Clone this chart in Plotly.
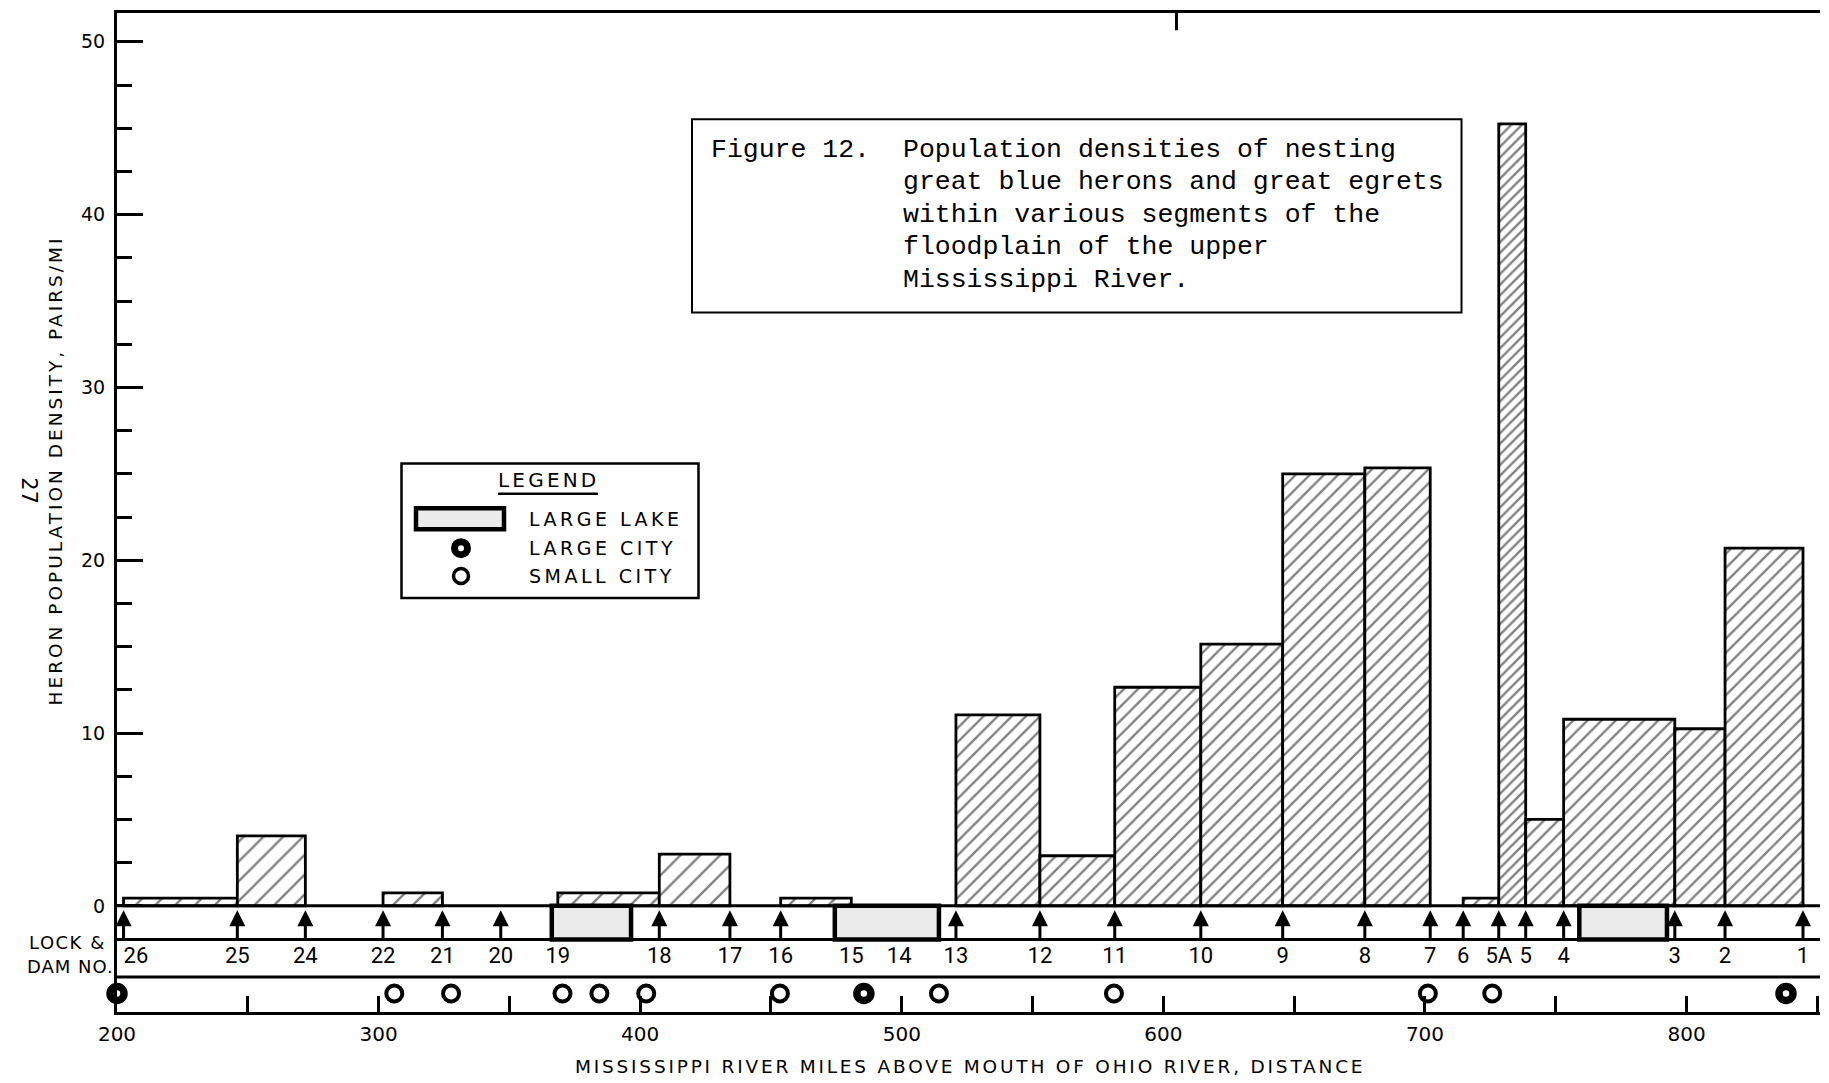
import plotly.graph_objects as go

# ---------------- data ----------------
lock_names = ["26", "25", "24", "22", "21", "20", "19", "18", "17", "16", "15", "14", "13",
              "12", "11", "10", "9", "8", "7", "6", "5A", "5", "4", "3", "2", "1"]
lock_miles = [202.5, 246.0, 272.0, 301.7, 324.4, 346.7, 368.5, 407.3, 434.3, 453.7, 480.7, 499.0, 520.7,
              552.8, 581.4, 614.3, 645.6, 677.0, 702.0, 714.6, 728.2, 738.5, 753.0, 795.5, 814.7, 844.5]
lock_has_arrow = [True, True, True, True, True, True, False, True, True, True, False, False, True,
                  True, True, True, True, True, True, True, True, True, True, True, True, True]

seg_from = ["26", "25", "22", "19", "18", "16", "13", "12", "11", "10", "9", "8", "6", "5A", "5", "4", "3", "2"]
seg_to = ["25", "24", "21", "18", "17", "15", "12", "11", "10", "9", "8", "7", "5A", "5", "4", "3", "2", "1"]
density = [0.45, 4.05, 0.75, 0.75, 3.0, 0.45, 11.05, 2.9, 12.65, 15.15, 25.0, 25.35, 0.45, 45.25, 5.0, 10.8, 10.25, 20.7]

lake_start = [366.2, 474.4, 759.0]
lake_end = [396.5, 514.2, 792.5]

small_city_miles = [306.0, 327.7, 370.3, 384.4, 402.3, 453.4, 514.2, 581.1, 701.1, 725.7]
large_city_miles = [200.0, 485.5, 838.0]

x_tick_vals = [200, 300, 400, 500, 600, 700, 800]
x_minor_vals = [250, 350, 450, 550, 650, 750, 850]
y_tick_vals = [0, 10, 20, 30, 40, 50]
y_minor_vals = [2.5, 5, 7.5, 12.5, 15, 17.5, 22.5, 25, 27.5, 32.5, 35, 37.5, 42.5, 45, 47.5]
top_tick_miles = [605]

title_first = "Figure 12."
title_lines = ["Population densities of nesting",
               "great blue herons and great egrets",
               "within various segments of the",
               "floodplain of the upper",
               "Mississippi River."]
legend_labels = ["LARGE LAKE", "LARGE CITY", "SMALL CITY"]

# ---------------- styling / geometry ----------------
OFF = 8                      # browser body margin
W, H = 1829 - OFF, 1083 - OFF
ML, MR, MT, MB = 109, 9, 2, 70.5
PW = W - ML - MR
PH = H - MT - MB
PX_PER_UNIT = 17.342
Y0_PAGE = 906.0
YMIN = -(OFF + MT + PH - Y0_PAGE) / PX_PER_UNIT
YMAX = (Y0_PAGE - OFF - MT) / PX_PER_UNIT
STRIP_LOCK = -1.95      # bottom of lock strip
STRIP_MID = -4.12       # line between lock labels and city strip
LABEL_Y = -3.0
CITY_Y = -5.07
FONT = "DejaVu Sans"
NARROW = "Liberation Sans Narrow, Arial Narrow, Roboto, sans-serif"
MONO = "Liberation Mono, DejaVu Sans Mono, monospace"


def px_x(x):
    return (x - OFF - ML) / PW


def px_y(y):
    return (OFF + MT + PH - y) / PH


def spaced(t, sp):
    return '<span style="letter-spacing:%.1fpx">%s</span>' % (sp, t)


lock_pos = dict(zip(lock_names, lock_miles))
bar_left = [lock_pos[a] for a in seg_from]
bar_right = [lock_pos[b] for b in seg_to]
bar_center = [(a + b) / 2 for a, b in zip(bar_left, bar_right)]
bar_width = [b - a for a, b in zip(bar_left, bar_right)]
hatch_size = [14 if c < 500 else (7.5 if w < 12 else 10) for c, w in zip(bar_center, bar_width)]
hatch_solid = [2.3 / s for s in hatch_size]

fig = go.Figure()

# density bars
fig.add_trace(go.Bar(
    x=bar_center, y=density, width=bar_width,
    marker=dict(color="white", line=dict(color="black", width=2.8),
                pattern=dict(shape="/", fgcolor="black", bgcolor="white",
                             size=hatch_size, solidity=hatch_solid)),
    hoverinfo="skip", showlegend=False))

# lakes
lake_center = [(a + b) / 2 for a, b in zip(lake_start, lake_end)]
lake_width = [b - a for a, b in zip(lake_start, lake_end)]
fig.add_trace(go.Bar(
    x=lake_center, y=[-STRIP_LOCK] * len(lake_center), base=STRIP_LOCK, width=lake_width,
    marker=dict(color="#ebebeb", line=dict(color="black", width=4.5)),
    hoverinfo="skip", showlegend=False))

# lock arrows
ax_x, ax_y, head_x = [], [], []
for m, a in zip(lock_miles, lock_has_arrow):
    if a:
        ax_x += [m, m, None]
        ax_y += [STRIP_LOCK, -0.8, None]
        head_x.append(m)
fig.add_trace(go.Scatter(x=ax_x, y=ax_y, mode="lines", line=dict(color="black", width=3),
                         hoverinfo="skip", showlegend=False, cliponaxis=False))
fig.add_trace(go.Scatter(x=head_x, y=[-0.25] * len(head_x), mode="markers",
                         marker=dict(symbol="arrow-up", size=16, color="black",
                                     line=dict(width=0)),
                         hoverinfo="skip", showlegend=False, cliponaxis=False))

# lock labels
fig.add_trace(go.Scatter(
    x=lock_miles, y=[LABEL_Y] * len(lock_miles), mode="text", text=lock_names,
    textposition=["middle right"] + ["middle center"] * (len(lock_names) - 1),
    textfont=dict(family=NARROW, size=22, color="black"),
    hoverinfo="skip", showlegend=False, cliponaxis=False))

# cities
fig.add_trace(go.Scatter(
    x=small_city_miles, y=[CITY_Y] * len(small_city_miles), mode="markers",
    marker=dict(symbol="circle-open", size=16, color="black", line=dict(width=4)),
    hoverinfo="skip", showlegend=False, cliponaxis=False))
fig.add_trace(go.Scatter(
    x=large_city_miles, y=[CITY_Y] * len(large_city_miles), mode="markers",
    marker=dict(symbol="circle", size=14, color="white", line=dict(color="black", width=7.5)),
    hoverinfo="skip", showlegend=False, cliponaxis=False))

shapes = []
for lvl in [0, STRIP_LOCK, STRIP_MID]:
    shapes.append(dict(type="line", xref="paper", yref="y", x0=0, x1=1, y0=lvl, y1=lvl,
                       line=dict(color="black", width=3), layer="above"))
for m in top_tick_miles:
    shapes.append(dict(type="line", xref="x", yref="y", x0=m, x1=m, y0=YMAX, y1=YMAX - 1.0,
                       line=dict(color="black", width=3)))

# title box
shapes.append(dict(type="rect", xref="paper", yref="paper",
                   x0=px_x(692), x1=px_x(1461.5), y0=px_y(116.5), y1=px_y(310.5),
                   line=dict(color="black", width=2), fillcolor="white", layer="above"))
# legend box
shapes.append(dict(type="rect", xref="paper", yref="paper",
                   x0=px_x(401.5), x1=px_x(698.5), y0=px_y(462), y1=px_y(597),
                   line=dict(color="black", width=2.5), fillcolor="white", layer="above"))
shapes.append(dict(type="line", xref="paper", yref="paper",
                   x0=px_x(498), x1=px_x(598), y0=px_y(492.5), y1=px_y(492.5),
                   line=dict(color="black", width=2.5), layer="above"))
shapes.append(dict(type="rect", xref="paper", yref="paper",
                   x0=px_x(416), x1=px_x(504), y0=px_y(507), y1=px_y(528),
                   line=dict(color="black", width=4.5), fillcolor="#ebebeb", layer="above"))
# legend city symbols
shapes.append(dict(type="circle", xref="paper", yref="paper", xsizemode="pixel", ysizemode="pixel",
                   xanchor=px_x(461), yanchor=px_y(547), x0=-6.5, x1=6.5, y0=-6.5, y1=6.5,
                   line=dict(color="black", width=7), fillcolor="white", layer="above"))
shapes.append(dict(type="circle", xref="paper", yref="paper", xsizemode="pixel", ysizemode="pixel",
                   xanchor=px_x(461), yanchor=px_y(575), x0=-7.5, x1=7.5, y0=-7.5, y1=7.5,
                   line=dict(color="black", width=3.5), fillcolor="white", layer="above"))

ann = []
ann.append(dict(text=title_first, xref="paper", yref="paper", x=px_x(709), y=px_y(147),
                xanchor="left", yanchor="middle", showarrow=False,
                font=dict(family=MONO, size=26.5, color="black")))
for i, t in enumerate(title_lines):
    ann.append(dict(text=t, xref="paper", yref="paper", x=px_x(900.5), y=px_y(147 + i * 32.67),
                    xanchor="left", yanchor="middle", showarrow=False,
                    font=dict(family=MONO, size=26.5, color="black")))
ann.append(dict(text=spaced("LEGEND", 3.2), xref="paper", yref="paper", x=px_x(548), y=px_y(479),
                xanchor="center", yanchor="middle", showarrow=False,
                font=dict(family=FONT, size=20, color="black")))
for i, t in enumerate(legend_labels):
    ann.append(dict(text=spaced(t, 3.5), xref="paper", yref="paper", x=px_x(527), y=px_y(518 + i * 28.5),
                    xanchor="left", yanchor="middle", showarrow=False,
                    font=dict(family=FONT, size=19, color="black")))
ann.append(dict(text=spaced("HERON POPULATION DENSITY, PAIRS/MI", 3.0), xref="paper", yref="paper",
                x=px_x(55.5), y=px_y(469.5), textangle=-90, xanchor="center", yanchor="middle",
                showarrow=False, font=dict(family=FONT, size=18.5, color="black")))
ann.append(dict(text=spaced("MISSISSIPPI RIVER MILES ABOVE MOUTH OF OHIO RIVER, DISTANCE", 2.8),
                xref="paper", yref="paper", x=px_x(969.5), y=px_y(1067),
                xanchor="center", yanchor="middle", showarrow=False,
                font=dict(family=FONT, size=18.5, color="black")))
ann.append(dict(text=spaced("LOCK &", 1.5), xref="paper", yref="paper", x=px_x(27), y=px_y(942.5),
                xanchor="left", yanchor="middle", showarrow=False,
                font=dict(family=FONT, size=18, color="black")))
ann.append(dict(text=spaced("DAM NO.", 1.0), xref="paper", yref="paper", x=px_x(25), y=px_y(967),
                xanchor="left", yanchor="middle", showarrow=False,
                font=dict(family=FONT, size=18, color="black")))
ann.append(dict(text="27", xref="paper", yref="paper", x=px_x(29), y=px_y(489),
                textangle=90, xanchor="center", yanchor="middle", showarrow=False,
                font=dict(family=FONT, size=21, color="black")))

fig.update_layout(
    width=W, height=H,
    margin=dict(l=ML, r=MR, t=MT, b=MB, pad=0),
    paper_bgcolor="white", plot_bgcolor="white",
    barmode="overlay", showlegend=False,
    shapes=shapes, annotations=ann,
    xaxis=dict(range=[200, 851], tickvals=x_tick_vals, ticktext=[str(v) for v in x_tick_vals],
               ticks="inside", ticklen=16, tickwidth=2.5, tickcolor="black",
               showline=True, mirror=True, linewidth=3, linecolor="black",
               showgrid=False, zeroline=False, ticklabelstandoff=2,
               tickfont=dict(family=FONT, size=20, color="black"),
               minor=dict(tickvals=x_minor_vals, ticks="inside", ticklen=16, tickwidth=2.5,
                          tickcolor="black", showgrid=False)),
    yaxis=dict(range=[YMIN, YMAX], tickvals=y_tick_vals, ticktext=[str(v) for v in y_tick_vals],
               ticks="inside", ticklen=26, tickwidth=3, tickcolor="black",
               showline=True, linewidth=3, linecolor="black",
               showgrid=False, zeroline=False, ticklabelstandoff=5,
               tickfont=dict(family=FONT, size=19, color="black"),
               minor=dict(tickvals=y_minor_vals, ticks="inside", ticklen=15, tickwidth=3,
                          tickcolor="black", showgrid=False)),
)

fig.write_html("out.html")
